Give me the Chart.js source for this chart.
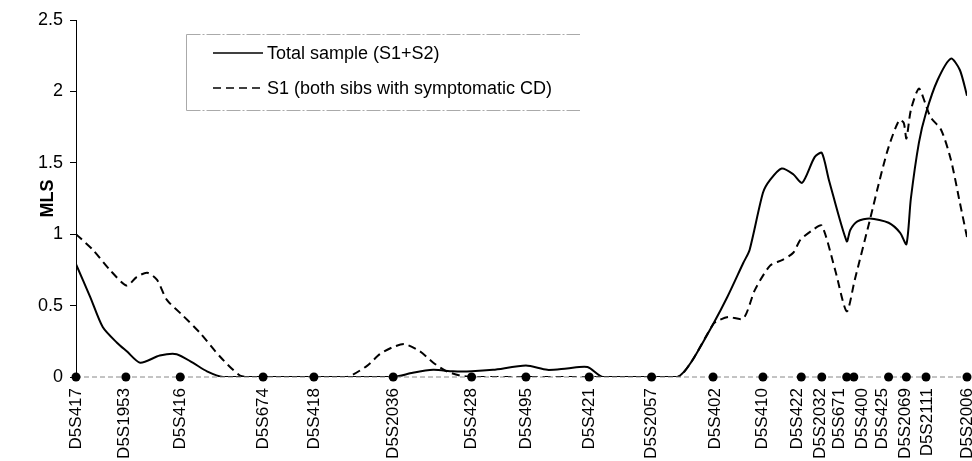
<!DOCTYPE html>
<html>
<head>
<meta charset="utf-8">
<script src="https://cdn.jsdelivr.net/npm/chart.js@4.4.1/dist/chart.umd.min.js"></script>
<style>
  html, body { margin: 0; padding: 0; background: #fff; }
  #wrap { width: 972px; height: 461px; overflow: hidden; }
</style>
</head>
<body>
<div id="wrap"><canvas id="chartCanvas" width="972" height="461"></canvas></div>
<script>
// marker names and map positions (0 = D5S417, 100 = D5S2006)
const markerNames = ["D5S417", "D5S1953", "D5S416", "D5S674", "D5S418", "D5S2036", "D5S428",
  "D5S495", "D5S421", "D5S2057", "D5S402", "D5S410", "D5S422", "D5S2032", "D5S671", "D5S400",
  "D5S425", "D5S2069", "D5S2111", "D5S2006"];
const markerPos = [0, 5.6, 11.7, 21.0, 26.7, 35.6, 44.4, 50.5, 57.6, 64.6, 71.5, 77.1, 81.4,
  83.7, 86.5, 87.3, 91.2, 93.2, 95.4, 100];
// where the names are written (spread apart where markers crowd)
const labelPos = [0, 5.4, 11.7, 21.0, 26.7, 35.6, 44.4, 50.5, 57.6, 64.6, 71.7, 77.0, 81.0,
  83.5, 85.7, 88.2, 90.5, 93.1, 95.5, 100];

// Total sample (S1+S2)
const totalPos = [0, 1.6, 3.0, 4.6, 5.7, 7.2, 9.4, 11.3, 13.1, 14.7, 16.5, 21.0, 26.7, 35.6,
  37.8, 40.1, 42.3, 44.4, 46.8, 50.5, 52.9, 55.1, 57.4, 59.1, 64.6, 67.5, 69.0, 71.5, 73.1,
  74.9, 75.6, 77.1, 77.9, 79.2, 80.5, 81.5, 82.9, 83.7, 84.5, 86.5, 86.9, 87.7, 89.1, 91.2,
  92.5, 93.2, 93.7, 94.6, 95.4, 96.7, 98.2, 99.2, 100];
const totalMls = [0.79, 0.56, 0.35, 0.24, 0.18, 0.10, 0.15, 0.16, 0.10, 0.04, 0, 0, 0, 0,
  0.03, 0.05, 0.04, 0.04, 0.05, 0.08, 0.05, 0.06, 0.07, 0, 0, 0, 0.10, 0.37, 0.56,
  0.80, 0.89, 1.29, 1.38, 1.46, 1.42, 1.36, 1.54, 1.57, 1.38, 0.95, 1.03, 1.09, 1.11, 1.08,
  1.01, 0.93, 1.25, 1.64, 1.85, 2.08, 2.23, 2.15, 1.97];

// S1 (both sibs with symptomatic CD)
const s1Pos = [0, 1.9, 3.8, 5.7, 6.8, 8.0, 9.1, 10.2, 12.0, 13.9, 16.2, 18.4, 19.5, 26.7,
  30.4, 32.7, 34.1, 35.6, 36.9, 38.6, 40.1, 41.6, 43.1, 44.4, 57.6, 67.5, 69.0, 71.5, 71.9,
  73.2, 74.9, 76.2, 77.9, 79.3, 80.5, 81.3, 82.7, 83.7, 85.2, 86.5, 87.4, 89.1, 90.2, 91.2,
  92.4, 92.9, 93.2, 93.7, 94.6, 95.3, 95.9, 97.1, 98.2, 99.2, 100];
const s1Mls = [1.00, 0.89, 0.75, 0.64, 0.70, 0.73, 0.68, 0.54, 0.43, 0.31, 0.14, 0.01, 0, 0,
  0, 0.08, 0.16, 0.21, 0.23, 0.18, 0.10, 0.04, 0.01, 0, 0, 0, 0.10, 0.37, 0.39,
  0.42, 0.41, 0.61, 0.78, 0.82, 0.87, 0.96, 1.03, 1.06, 0.75, 0.46, 0.68, 1.10, 1.38, 1.61,
  1.80, 1.78, 1.67, 1.87, 2.02, 1.92, 1.82, 1.73, 1.52, 1.22, 0.98];

const yTicks = [0, 0.5, 1, 1.5, 2, 2.5];

const FONT = "'Liberation Sans', Arial, sans-serif";

const toXY = (xs, ys) => xs.map((x, i) => ({ x: x, y: ys[i] }));

// legend box drawn inside the plot, upper left
const boxLegend = {
  id: "boxLegend",
  afterDraw(chart) {
    const c = chart.ctx;
    const left = 186, top = 34, bottom = 110, right = 580;
    c.save();
    c.strokeStyle = "#aaa";
    c.lineWidth = 1;
    c.beginPath();
    c.moveTo(left + 0.5, top + 0.5);
    c.lineTo(left + 0.5, bottom + 0.5);
    c.stroke();
    c.setLineDash([14, 2, 2, 2]);
    c.beginPath();
    c.moveTo(left + 0.5, top + 0.5);
    c.lineTo(right, top + 0.5);
    c.moveTo(left + 0.5, bottom + 0.5);
    c.lineTo(right, bottom + 0.5);
    c.stroke();

    const rows = [chart.data.datasets[1], chart.data.datasets[2]];
    const rowY = [53, 88];
    rows.forEach((ds, i) => {
      c.strokeStyle = "#000";
      c.lineWidth = 1.5;
      c.setLineDash(ds.borderDash || []);
      c.beginPath();
      c.moveTo(213, rowY[i]);
      c.lineTo(263, rowY[i]);
      c.stroke();
      c.setLineDash([]);
      c.fillStyle = "#000";
      c.font = "18px " + FONT;
      c.textBaseline = "middle";
      c.textAlign = "left";
      c.fillText(ds.label, 267, rowY[i] + 1);
    });
    c.restore();
  }
};

const ctx = document.getElementById("chartCanvas").getContext("2d");

new Chart(ctx, {
  type: "line",
  data: {
    datasets: [
      {
        label: "markers",
        data: markerPos.map((x) => ({ x: x, y: 0 })),
        borderColor: "#888",
        borderWidth: 1,
        borderDash: [5, 3],
        pointRadius: 4.5,
        pointBackgroundColor: "#000",
        pointBorderColor: "#000",
        pointBorderWidth: 0,
        clip: false,
        order: 0
      },
      {
        label: "Total sample (S1+S2)",
        data: toXY(totalPos, totalMls),
        borderColor: "#000",
        borderWidth: 2,
        pointRadius: 0,
        tension: 0.25,
        order: 1
      },
      {
        label: "S1 (both sibs with symptomatic CD)",
        data: toXY(s1Pos, s1Mls),
        borderColor: "#000",
        borderWidth: 2,
        borderDash: [8, 5],
        pointRadius: 0,
        tension: 0.25,
        order: 2
      }
    ]
  },
  options: {
    responsive: false,
    devicePixelRatio: 1,
    animation: false,
    layout: { padding: { top: 20, right: 5, left: 0, bottom: 0 } },
    plugins: {
      legend: { display: false },
      tooltip: { enabled: false }
    },
    scales: {
      x: {
        type: "linear",
        min: 0,
        max: 100,
        afterBuildTicks: (axis) => {
          axis.ticks = labelPos.map((v) => ({ value: v }));
        },
        afterFit: (scale) => {
          scale.height = 84;
          scale.paddingLeft = 0;
          scale.paddingRight = 0;
        },
        ticks: {
          autoSkip: false,
          minRotation: 90,
          maxRotation: 90,
          padding: 11,
          color: "#000",
          font: { family: FONT, size: 17 },
          callback: (value, index) => markerNames[index]
        },
        grid: { display: false, drawTicks: false },
        border: { display: false }
      },
      y: {
        min: 0,
        max: 2.5,
        afterBuildTicks: (axis) => {
          axis.ticks = yTicks.map((v) => ({ value: v }));
        },
        afterFit: (scale) => {
          scale.width = 76;
          scale.paddingTop = 0;
          scale.paddingBottom = 0;
        },
        ticks: {
          color: "#000",
          padding: 7,
          font: { family: FONT, size: 18 },
          callback: (value) => String(value)
        },
        grid: {
          drawOnChartArea: false,
          drawTicks: true,
          tickLength: 6,
          tickColor: "#000"
        },
        border: { display: true, color: "#000", width: 1 },
        title: {
          display: true,
          text: "MLS",
          color: "#000",
          font: { family: FONT, size: 18, weight: "bold" },
          padding: { top: 37, bottom: 0 }
        }
      }
    }
  },
  plugins: [boxLegend]
});
</script>
</body>
</html>
